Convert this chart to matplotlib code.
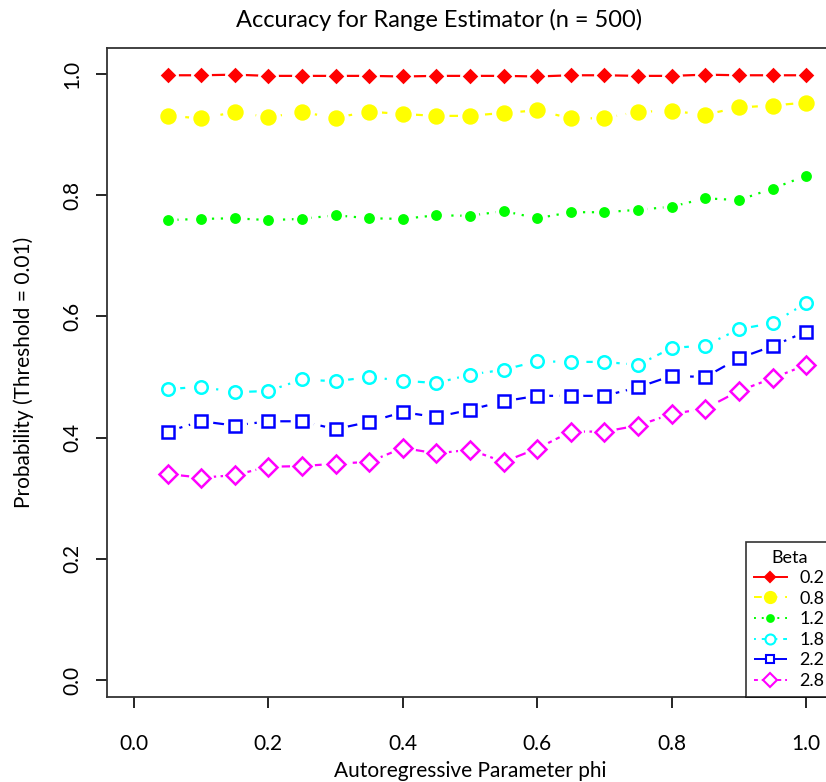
import numpy as np
import matplotlib
matplotlib.use("Agg")
import matplotlib.pyplot as plt
from matplotlib.lines import Line2D

plt.rcParams['font.family'] = ['Lato', 'DejaVu Sans']

# data
phi = [0.05, 0.10, 0.15, 0.20, 0.25, 0.30, 0.35, 0.40, 0.45, 0.50,
       0.55, 0.60, 0.65, 0.70, 0.75, 0.80, 0.85, 0.90, 0.95, 1.00]
beta_labels = ['0.2', '0.8', '1.2', '1.8', '2.2', '2.8']

p_02 = [0.998, 0.998, 0.999, 0.997, 0.997, 0.997, 0.997, 0.996, 0.997, 0.997,
        0.997, 0.996, 0.998, 0.998, 0.997, 0.997, 0.999, 0.998, 0.998, 0.998]
p_08 = [0.931, 0.927, 0.937, 0.929, 0.937, 0.928, 0.938, 0.934, 0.931, 0.931,
        0.936, 0.940, 0.927, 0.927, 0.938, 0.939, 0.933, 0.945, 0.948, 0.953]
p_12 = [0.759, 0.761, 0.762, 0.759, 0.761, 0.767, 0.762, 0.761, 0.767, 0.766,
        0.774, 0.762, 0.772, 0.772, 0.776, 0.781, 0.795, 0.792, 0.811, 0.832]
p_18 = [0.480, 0.484, 0.475, 0.477, 0.496, 0.493, 0.500, 0.494, 0.490, 0.504,
        0.512, 0.526, 0.525, 0.525, 0.520, 0.548, 0.552, 0.579, 0.589, 0.622]
p_22 = [0.410, 0.427, 0.420, 0.427, 0.427, 0.414, 0.426, 0.442, 0.434, 0.446,
        0.460, 0.469, 0.469, 0.469, 0.483, 0.502, 0.500, 0.531, 0.551, 0.575]
p_28 = [0.340, 0.334, 0.338, 0.352, 0.353, 0.357, 0.360, 0.383, 0.374, 0.380,
        0.360, 0.382, 0.410, 0.410, 0.420, 0.439, 0.448, 0.477, 0.498, 0.520]
series = [p_02, p_08, p_12, p_18, p_22, p_28]

# styles (R-like: type="b" lines with gaps around points)
colors = ['#ff0000', '#ffff00', '#00ff00', '#00ffff', '#0000ff', '#ff00ff']
dashes = ['-', (0, (4, 4)), (0, (1, 3)), (0, (1, 3, 4, 3)), (0, (7, 3)), (0, (2, 2, 6, 2))]
markers = ['D', 'o', 'o', 'o', 's', 'D']
msizes = [6, 10, 6, 9, 8, 9]
filled = [True, True, True, False, False, False]
gaps = [15, 18, 13, 17, 17, 18]

fig = plt.figure(figsize=(8.26, 7.82), dpi=100)
ax = fig.add_axes([107/826, 1-697/782, 726/826, 649/782])

handles = []
for y, c, ls, m, ms, f, g, lab in zip(series, colors, dashes, markers, msizes,
                                       filled, gaps, beta_labels):
    ax.plot(phi, y, color=c, linestyle=ls, linewidth=1.6, zorder=2)
    ax.plot(phi, y, linestyle='none', marker='o', markersize=g,
            markerfacecolor='white', markeredgecolor='none', zorder=3)
    ax.plot(phi, y, linestyle='none', marker=m, markersize=ms,
            markerfacecolor=c if f else 'white', markeredgecolor=c,
            markeredgewidth=1.8, zorder=4)
    handles.append(Line2D([], [], color=c, linestyle=ls, linewidth=1.4,
                          marker=m, markersize=ms * 0.8,
                          markerfacecolor=c if f else 'white',
                          markeredgecolor=c, markeredgewidth=1.5, label=lab))

ax.set_xlim(-0.04, 1.04)
ax.set_ylim(-0.028, 1.043)
ax.set_xticks([0.0, 0.2, 0.4, 0.6, 0.8, 1.0])
ax.set_yticks([0.0, 0.2, 0.4, 0.6, 0.8, 1.0])
ax.set_xticklabels(['0.0', '0.2', '0.4', '0.6', '0.8', '1.0'])
ax.set_yticklabels(['0.0', '0.2', '0.4', '0.6', '0.8', '1.0'],
                   rotation=90, va='center')
ax.tick_params(direction='out', length=8, width=1.2, labelsize=15)
ax.tick_params(axis='x', pad=19)
ax.tick_params(axis='y', pad=10)
for sp in ax.spines.values():
    sp.set_linewidth(1.3)
    sp.set_color('#333333')

ax.set_xlabel('Autoregressive Parameter phi', fontsize=15, labelpad=5)
ax.set_ylabel('Probability (Threshold = 0.01)', fontsize=15, labelpad=20)
fig.text(439/826, 1-20/782, 'Accuracy for Range Estimator (n = 500)',
         ha='center', va='center', fontsize=17)

leg = ax.legend(handles=handles, title='Beta', loc='lower left',
                bbox_to_anchor=(639/726, 0.0), fontsize=13, title_fontsize=13,
                frameon=True, fancybox=False, edgecolor='black',
                handlelength=1.8, handletextpad=0.7, borderpad=0.45,
                labelspacing=0.25, borderaxespad=0.0)
leg.get_frame().set_linewidth(1.2)

fig.savefig('out.png', dpi=100)
